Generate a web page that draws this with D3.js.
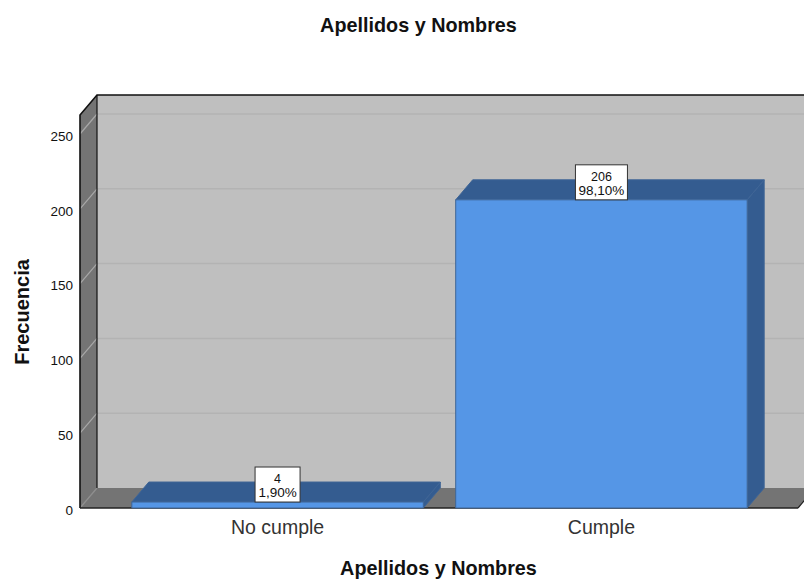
<!DOCTYPE html>
<html>
<head>
<meta charset="utf-8">
<script src="https://cdn.jsdelivr.net/npm/d3@7/dist/d3.min.js"></script>
<style>
html,body{margin:0;padding:0;background:#fff;overflow:hidden}
svg{display:block}
text{font-family:"Liberation Sans",Arial,sans-serif;fill:#111}
</style>
</head>
<body>
<script>
const categories = ["No cumple", "Cumple"];
const counts = [4, 206];
const shares = ["1,90%", "98,10%"];
const yTicks = [0, 50, 100, 150, 200, 250];
const chartTitle = "Apellidos y Nombres";
const xTitle = "Apellidos y Nombres";
const yTitle = "Frecuencia";

const width = 804, height = 581;
const frontLeft = 80, frontRight = 798, frontBase = 508, frontTop = 115;
const depthX = 17, depthY = -20;

const colors = {
  wall: "#bfbfbf", side: "#747474", floor: "#747474", grid: "#b3b3b3",
  bar: "#5596e6", barDark: "#345c90", barEdge: "#3f6596", edge: "#111"
};

const svg = d3.select("body").append("svg").attr("width", width).attr("height", height);

const x = d3.scaleBand().domain(categories).range([frontLeft, frontRight + 1]).paddingInner(0.1).paddingOuter(0.16);
const y = d3.scaleLinear().domain([0, (frontBase - frontTop) / 1.496]).range([frontBase, frontTop]);
const yMax = y.domain()[1];

const poly = (pts, fill, stroke, sw) => svg.append("polygon")
  .attr("points", pts.map(p => p.join(",")).join(" "))
  .attr("fill", fill).attr("stroke", stroke || "none").attr("stroke-width", sw || 0)
  .attr("stroke-linejoin", "round");

// Back wall, left wall and floor of the 3D box
poly([[frontLeft + depthX, y(0) + depthY], [width + 30, y(0) + depthY], [width + 30, y(yMax) + depthY], [frontLeft + depthX, y(yMax) + depthY]], colors.wall);
poly([[frontLeft, y(0)], [frontLeft + depthX, y(0) + depthY], [frontLeft + depthX, y(yMax) + depthY], [frontLeft, y(yMax)]], colors.side);
poly([[frontLeft, y(0)], [frontRight, y(0)], [frontRight + depthX, y(0) + depthY], [frontLeft + depthX, y(0) + depthY]], colors.floor);

// Gridlines run along the left wall and across the back wall
yTicks.forEach(t => {
  if (t > 0) {
    svg.append("line").attr("x1", frontLeft + depthX).attr("x2", width + 30)
      .attr("y1", y(t) + depthY).attr("y2", y(t) + depthY)
      .attr("stroke", colors.grid).attr("stroke-width", 1.5);
  }
  svg.append("line").attr("x1", frontLeft).attr("x2", frontLeft + depthX)
    .attr("y1", y(t)).attr("y2", y(t) + depthY)
    .attr("stroke", t > 0 ? "#a8a8a8" : "#8e8e8e").attr("stroke-width", 1.2);
});

// Box outline
const outline = d3.path();
outline.moveTo(frontLeft, y(0));
outline.lineTo(frontLeft, y(yMax));
outline.lineTo(frontLeft + depthX, y(yMax) + depthY);
outline.lineTo(width + 30, y(yMax) + depthY);
svg.append("path").attr("d", outline.toString()).attr("fill", "none").attr("stroke", colors.edge).attr("stroke-width", 1.6);
svg.append("line").attr("x1", frontLeft + depthX).attr("x2", frontLeft + depthX)
  .attr("y1", y(yMax) + depthY).attr("y2", y(0) + depthY).attr("stroke", colors.edge).attr("stroke-width", 1.2);
svg.append("line").attr("x1", frontLeft).attr("x2", frontRight)
  .attr("y1", y(0)).attr("y2", y(0)).attr("stroke", "#222").attr("stroke-width", 1.6);
svg.append("line").attr("x1", frontRight).attr("x2", frontRight + depthX)
  .attr("y1", y(0)).attr("y2", y(0) + depthY).attr("stroke", "#222").attr("stroke-width", 1.2);

// Bars: side face, top face, then front face
categories.forEach((c, i) => {
  const l = x(c), r = l + x.bandwidth(), t = y(counts[i]), b = y(0);
  poly([[r, b], [r + depthX, b + depthY], [r + depthX, t + depthY], [r, t]], colors.barDark, colors.barEdge, 1);
  poly([[l, t], [l + depthX, t + depthY], [r + depthX, t + depthY], [r, t]], colors.barDark, colors.barEdge, 1);
  poly([[l, b], [r, b], [r, t], [l, t]], colors.bar, colors.barEdge, 1);
});

// Value labels sit on the top edge of each bar
const boxWidths = [45, 52];
categories.forEach((c, i) => {
  const cx = x(c) + x.bandwidth() / 2;
  const bottom = y(counts[i]);
  svg.append("rect").attr("x", cx - boxWidths[i] / 2).attr("y", bottom - 35)
    .attr("width", boxWidths[i]).attr("height", 35)
    .attr("fill", "#fff").attr("stroke", "#333").attr("stroke-width", 1);
  svg.append("text").attr("x", cx).attr("y", bottom - 19).attr("text-anchor", "middle")
    .attr("font-size", 12.5).text(counts[i]);
  svg.append("text").attr("x", cx).attr("y", bottom - 5).attr("text-anchor", "middle")
    .attr("font-size", 13.5).text(shares[i]);
});

// Value axis
const yAxis = d3.axisLeft(y).tickValues(yTicks).tickSize(0).tickPadding(7);
const yg = svg.append("g").attr("transform", `translate(${frontLeft},2)`).call(yAxis);
yg.select(".domain").remove();
yg.selectAll("text").attr("font-size", 13.5).style("font-family", '"Liberation Sans",Arial,sans-serif').attr("fill", "#111");

// Category axis
const xAxis = d3.axisBottom(x).tickSize(0).tickPadding(12);
const xg = svg.append("g").attr("transform", `translate(0,${frontBase})`).call(xAxis);
xg.select(".domain").remove();
xg.selectAll("text").attr("font-size", 19.5).style("font-family", '"Liberation Sans",Arial,sans-serif').style("fill", "#333");

// Titles
svg.append("text").attr("x", 418.5).attr("y", 32).attr("text-anchor", "middle")
  .attr("font-size", 19.8).attr("font-weight", "bold").text(chartTitle);
svg.append("text").attr("x", 438.5).attr("y", 575).attr("text-anchor", "middle")
  .attr("font-size", 19.8).attr("font-weight", "bold").text(xTitle);
svg.append("text").attr("transform", "translate(29,312) rotate(-90)").attr("text-anchor", "middle")
  .attr("font-size", 20).attr("font-weight", "bold").text(yTitle);
</script>
</body>
</html>
